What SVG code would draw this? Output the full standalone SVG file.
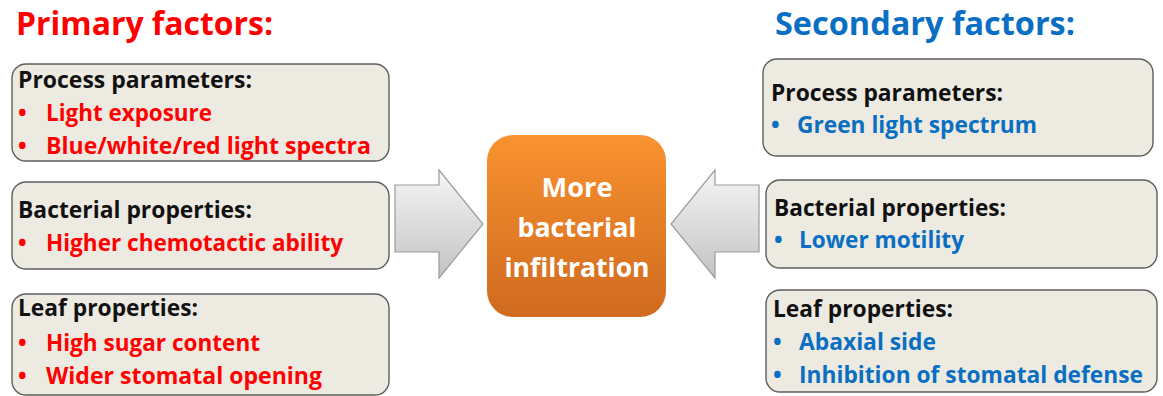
<svg xmlns="http://www.w3.org/2000/svg" width="1163" height="396" viewBox="0 0 1163 396">
  <defs>
    <linearGradient id="gOrange" x1="0" y1="0" x2="0" y2="1">
      <stop offset="0" stop-color="#f9922f"/>
      <stop offset="1" stop-color="#cf6a1f"/>
    </linearGradient>
    <linearGradient id="gArrow" x1="0" y1="0" x2="0" y2="1">
      <stop offset="0" stop-color="#f5f5f5"/>
      <stop offset="1" stop-color="#c3c3c3"/>
    </linearGradient>
    <style>
      text { font-family: "Open Sans", "Liberation Sans", sans-serif; font-weight: bold; }
      .box { fill: #edeae1; stroke: #5e5e5e; stroke-width: 1.4; }
      .head { font-size: 23px; fill: #111111; }
      .red { font-size: 23px; fill: #ff0000; }
      .blue { font-size: 23px; fill: #0a6fc2; }
      .title { font-size: 32px; }
      .center { font-size: 27px; fill: #ffffff; text-anchor: middle; }
      .arrow { fill: url(#gArrow); stroke: #9c9c9c; stroke-width: 1.2; }
    </style>
  </defs>
  <rect width="1163" height="396" fill="#ffffff"/>

  <!-- headings -->
  <text class="title" x="16" y="35" fill="#ff0000" textLength="257" lengthAdjust="spacingAndGlyphs">Primary factors:</text>
  <text class="title" x="775" y="35" fill="#0a6fc2" textLength="300" lengthAdjust="spacingAndGlyphs">Secondary factors:</text>

  <!-- primary factors -->
  <g id="primary-process">
    <rect class="box" x="12" y="64" width="377" height="97" rx="14"/>
    <text class="head" x="18" y="88" textLength="234" lengthAdjust="spacingAndGlyphs">Process parameters:</text>
    <text class="red" x="18" y="121">•</text>
    <text class="red" x="46" y="121" textLength="166" lengthAdjust="spacingAndGlyphs">Light exposure</text>
    <text class="red" x="18" y="154">•</text>
    <text class="red" x="46" y="154" textLength="325" lengthAdjust="spacingAndGlyphs">Blue/white/red light spectra</text>
  </g>
  <g id="primary-bacterial">
    <rect class="box" x="12" y="182" width="377" height="87" rx="14"/>
    <text class="head" x="18" y="218" textLength="234" lengthAdjust="spacingAndGlyphs">Bacterial properties:</text>
    <text class="red" x="18" y="251">•</text>
    <text class="red" x="46" y="251" textLength="297" lengthAdjust="spacingAndGlyphs">Higher chemotactic ability</text>
  </g>
  <g id="primary-leaf">
    <rect class="box" x="12" y="294" width="377" height="101" rx="14"/>
    <text class="head" x="18" y="316" textLength="180" lengthAdjust="spacingAndGlyphs">Leaf properties:</text>
    <text class="red" x="18" y="351">•</text>
    <text class="red" x="46" y="351" textLength="214" lengthAdjust="spacingAndGlyphs">High sugar content</text>
    <text class="red" x="18" y="384">•</text>
    <text class="red" x="46" y="384" textLength="276" lengthAdjust="spacingAndGlyphs">Wider stomatal opening</text>
  </g>

  <!-- outcome -->
  <g id="outcome">
    <rect x="487" y="135" width="179" height="182" rx="26" fill="url(#gOrange)"/>
    <text class="center" x="577" y="197" textLength="71" lengthAdjust="spacingAndGlyphs">More</text>
    <text class="center" x="577" y="237" textLength="119" lengthAdjust="spacingAndGlyphs">bacterial</text>
    <text class="center" x="577" y="277" textLength="145" lengthAdjust="spacingAndGlyphs">infiltration</text>
  </g>

  <!-- connectors -->
  <g id="connectors">
    <path class="arrow" d="M395,185 H439 V170 L483,224 L439,278 V252 H395 Z"/>
    <path class="arrow" d="M759,185 H715 V170 L671,224 L715,278 V252 H759 Z"/>
  </g>

  <!-- secondary factors -->
  <g id="secondary-process">
    <rect class="box" x="763" y="59" width="390" height="97" rx="14"/>
    <text class="head" x="771" y="101" textLength="232" lengthAdjust="spacingAndGlyphs">Process parameters:</text>
    <text class="blue" x="771" y="133">•</text>
    <text class="blue" x="797" y="133" textLength="240" lengthAdjust="spacingAndGlyphs">Green light spectrum</text>
  </g>
  <g id="secondary-bacterial">
    <rect class="box" x="766" y="180" width="391" height="88" rx="14"/>
    <text class="head" x="774" y="216" textLength="232" lengthAdjust="spacingAndGlyphs">Bacterial properties:</text>
    <text class="blue" x="774" y="248">•</text>
    <text class="blue" x="799" y="248" textLength="165" lengthAdjust="spacingAndGlyphs">Lower motility</text>
  </g>
  <g id="secondary-leaf">
    <rect class="box" x="766" y="290" width="391" height="102" rx="14"/>
    <text class="head" x="773" y="317" textLength="180" lengthAdjust="spacingAndGlyphs">Leaf properties:</text>
    <text class="blue" x="773" y="350">•</text>
    <text class="blue" x="799" y="350" textLength="137" lengthAdjust="spacingAndGlyphs">Abaxial side</text>
    <text class="blue" x="773" y="383">•</text>
    <text class="blue" x="799" y="383" textLength="344" lengthAdjust="spacingAndGlyphs">Inhibition of stomatal defense</text>
  </g>
</svg>
